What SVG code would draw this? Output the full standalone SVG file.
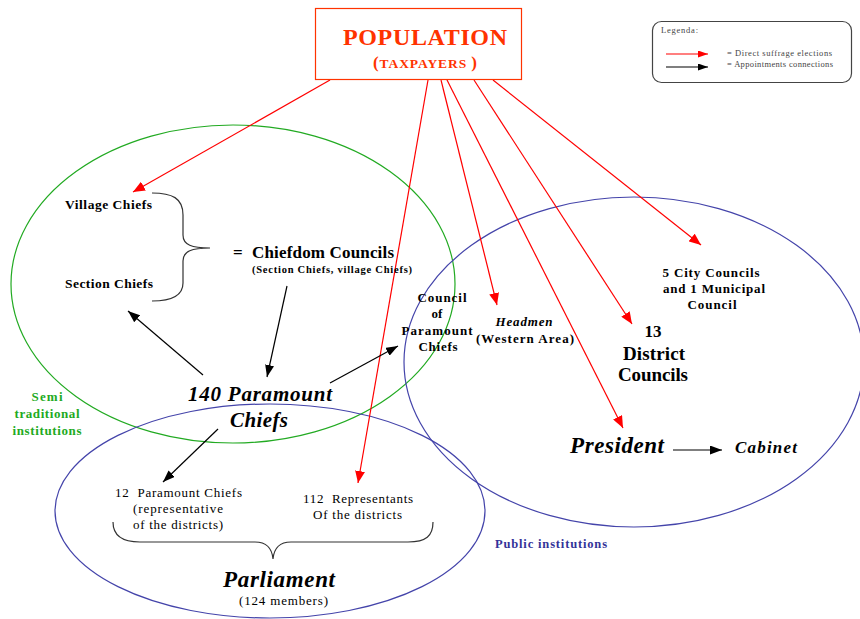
<svg xmlns="http://www.w3.org/2000/svg" width="860" height="619" viewBox="0 0 860 619" font-family="Liberation Serif, serif">
<defs>
<marker id="ar" markerUnits="userSpaceOnUse" markerWidth="12" markerHeight="10" refX="12" refY="5" orient="auto"><path d="M0,0 L12,5 L0,10 z" fill="#ff0000"/></marker>
<marker id="ab" markerUnits="userSpaceOnUse" markerWidth="12" markerHeight="9" refX="12" refY="4.5" orient="auto"><path d="M0,0 L12,4.5 L0,9 z" fill="#000"/></marker>
<marker id="arl" markerUnits="userSpaceOnUse" markerWidth="10" markerHeight="7" refX="10" refY="3.5" orient="auto"><path d="M0,0 L10,3.5 L0,7 z" fill="#ff0000"/></marker>
<marker id="abl" markerUnits="userSpaceOnUse" markerWidth="10" markerHeight="7" refX="10" refY="3.5" orient="auto"><path d="M0,0 L10,3.5 L0,7 z" fill="#000"/></marker>
</defs>
<style>
text{font-family:'Liberation Serif','Times New Roman',serif;fill:#000}
.b{font-weight:bold}
.bi{font-weight:bold;font-style:italic}
.r{stroke:#ff0000;stroke-width:1.2;fill:none;marker-end:url(#ar)}
.k{stroke:#000;stroke-width:1.2;fill:none;marker-end:url(#ab)}
.m{text-anchor:middle}
.g{fill:#22aa22}
.lg{font-size:8.5px;fill:#444}
</style>
<rect width="860" height="619" fill="#fff"/>

<g id="regions" fill="none" stroke-width="1.2">
<ellipse cx="233" cy="284" rx="222" ry="159" stroke="#22aa22"/>
<ellipse cx="270" cy="511" rx="215" ry="107" stroke="#4444aa"/>
<ellipse cx="634" cy="362" rx="230" ry="165" stroke="#4444aa"/>
</g>

<g id="connectors">
<line class="r" x1="330" y1="80" x2="133" y2="192"/>
<line class="r" x1="428" y1="80" x2="358" y2="483"/>
<line class="r" x1="441" y1="80" x2="497" y2="305"/>
<line class="r" x1="447" y1="80" x2="623" y2="428"/>
<line class="r" x1="474" y1="80" x2="632" y2="324"/>
<line class="r" x1="493" y1="80" x2="701" y2="245"/>
<line class="k" x1="203" y1="375" x2="128" y2="311"/>
<line class="k" x1="287" y1="286" x2="267" y2="377"/>
<line class="k" x1="330" y1="383" x2="398" y2="346"/>
<line class="k" x1="218" y1="429" x2="163" y2="482"/>
<line class="k" x1="673" y1="450" x2="722" y2="450"/>
</g>

<g id="population">
<rect x="315.5" y="8.5" width="206" height="71" fill="#fff" stroke="#ff3300" stroke-width="1.2"/>
<text x="343" y="45" class="b" textLength="164" lengthAdjust="spacing" style="font-size:24px;fill:#ff3300">POPULATION</text>
<text x="373" y="68" class="b" textLength="104" lengthAdjust="spacing" style="fill:#ff3300"><tspan style="font-size:17px">(</tspan><tspan style="font-size:13.5px">TAXPAYERS </tspan><tspan style="font-size:17px">)</tspan></text>
</g>

<g id="legend">
<rect x="652.5" y="21.5" width="199" height="61" rx="9" fill="#fff" stroke="#444" stroke-width="1.2"/>
<text x="661" y="33" class="lg" textLength="37" lengthAdjust="spacing">Legenda:</text>
<line x1="666" y1="54" x2="708" y2="54" stroke="#ff0000" stroke-width="1.2" marker-end="url(#arl)"/>
<line x1="666" y1="67" x2="708" y2="67" stroke="#000" stroke-width="1.2" marker-end="url(#abl)"/>
<text x="727" y="56" class="lg" textLength="105" lengthAdjust="spacing">= Direct suffrage elections</text>
<text x="727" y="67" class="lg" textLength="106" lengthAdjust="spacing">= Appointments connections</text>
</g>

<g id="village-chiefs"><text x="65" y="209" class="b" textLength="87" lengthAdjust="spacing" style="font-size:13.5px">Village Chiefs</text></g>
<g id="section-chiefs"><text x="65" y="288" class="b" textLength="88" lengthAdjust="spacing" style="font-size:13.5px">Section Chiefs</text></g>
<g id="chiefs-brace"><path d="M152,193 C172,193 183,198 183,215 L183,235 C183,245 192,248 210,248 C192,248 183,251 183,261 L183,283 C183,296 172,301 152,301" fill="none" stroke="#333" stroke-width="1.2"/></g>
<g id="chiefdom-councils">
<text x="233" y="258" class="b" style="font-size:17px">=</text>
<text x="252" y="258" class="b" textLength="142" lengthAdjust="spacing" style="font-size:17px">Chiefdom Councils</text>
<text x="252" y="273" class="b" textLength="160" lengthAdjust="spacing" style="font-size:10.5px">(Section Chiefs, village Chiefs)</text>
</g>
<g id="council-paramount-chiefs">
<text x="442" y="302" class="b m" textLength="49" lengthAdjust="spacing" style="font-size:13px">Council</text>
<text x="437" y="318" class="b m" style="font-size:13px">of</text>
<text x="437" y="335" class="b m" textLength="71" lengthAdjust="spacing" style="font-size:13px">Paramount</text>
<text x="438" y="351" class="b m" textLength="39" lengthAdjust="spacing" style="font-size:13px">Chiefs</text>
</g>
<g id="headmen">
<text x="524" y="326" class="bi m" textLength="57" lengthAdjust="spacing" style="font-size:13px">Headmen</text>
<text x="525" y="343" class="b m" textLength="98" lengthAdjust="spacing" style="font-size:13px">(Western Area)</text>
</g>
<g id="district-councils">
<text x="653" y="337" class="b m" style="font-size:17px">13</text>
<text x="654" y="360" class="b m" textLength="62" lengthAdjust="spacing" style="font-size:19px">District</text>
<text x="653" y="381" class="b m" textLength="70" lengthAdjust="spacing" style="font-size:19px">Councils</text>
</g>
<g id="city-councils">
<text x="711" y="277" class="b m" textLength="97" lengthAdjust="spacing" style="font-size:13px">5 City Councils</text>
<text x="714" y="293" class="b m" textLength="102" lengthAdjust="spacing" style="font-size:13px">and 1 Municipal</text>
<text x="712" y="309" class="b m" textLength="49" lengthAdjust="spacing" style="font-size:13px">Council</text>
</g>
<g id="paramount-chiefs">
<text x="260" y="401" class="bi m" textLength="144" lengthAdjust="spacing" style="font-size:21px">140 Paramount</text>
<text x="259" y="427" class="bi m" textLength="58" lengthAdjust="spacing" style="font-size:21px">Chiefs</text>
</g>
<g id="semi-traditional">
<text x="47" y="401" class="b m g" textLength="31" lengthAdjust="spacing" style="font-size:13px">Semi</text>
<text x="47" y="418" class="b m g" textLength="65" lengthAdjust="spacing" style="font-size:13px">traditional</text>
<text x="47" y="435" class="b m g" textLength="69" lengthAdjust="spacing" style="font-size:13px">institutions</text>
</g>
<g id="president"><text x="570" y="453" class="bi" textLength="94" lengthAdjust="spacing" style="font-size:23px">President</text></g>
<g id="cabinet"><text x="735" y="453" class="bi" textLength="62" lengthAdjust="spacing" style="font-size:17px">Cabinet</text></g>
<g id="twelve-paramount">
<text x="115" y="497" textLength="127" lengthAdjust="spacing" style="font-size:13px;white-space:pre">12  Paramount Chiefs</text>
<text x="133" y="513" textLength="90" lengthAdjust="spacing" style="font-size:13px">(representative</text>
<text x="133" y="529" textLength="90" lengthAdjust="spacing" style="font-size:13px">of the districts)</text>
</g>
<g id="representants">
<text x="303" y="503" textLength="110" lengthAdjust="spacing" style="font-size:13px;white-space:pre">112  Representants</text>
<text x="313" y="519" textLength="89" lengthAdjust="spacing" style="font-size:13px">Of the districts</text>
</g>
<g id="parliament-brace"><path d="M113,522 C113,536 122,542 140,542 L255,542 C266,542 272,548 273,559 C274,548 280,542 291,542 L408,542 C426,542 433,536 433,522" fill="none" stroke="#333" stroke-width="1.2"/></g>
<g id="parliament">
<text x="223" y="587" class="bi" textLength="112" lengthAdjust="spacing" style="font-size:23px">Parliament</text>
<text x="239" y="605" textLength="89" lengthAdjust="spacing" style="font-size:13px">(124 members)</text>
</g>
<g id="public-institutions"><text x="495" y="548" class="b" textLength="112" lengthAdjust="spacing" style="font-size:12.5px;fill:#333399">Public institutions</text></g>
</svg>
